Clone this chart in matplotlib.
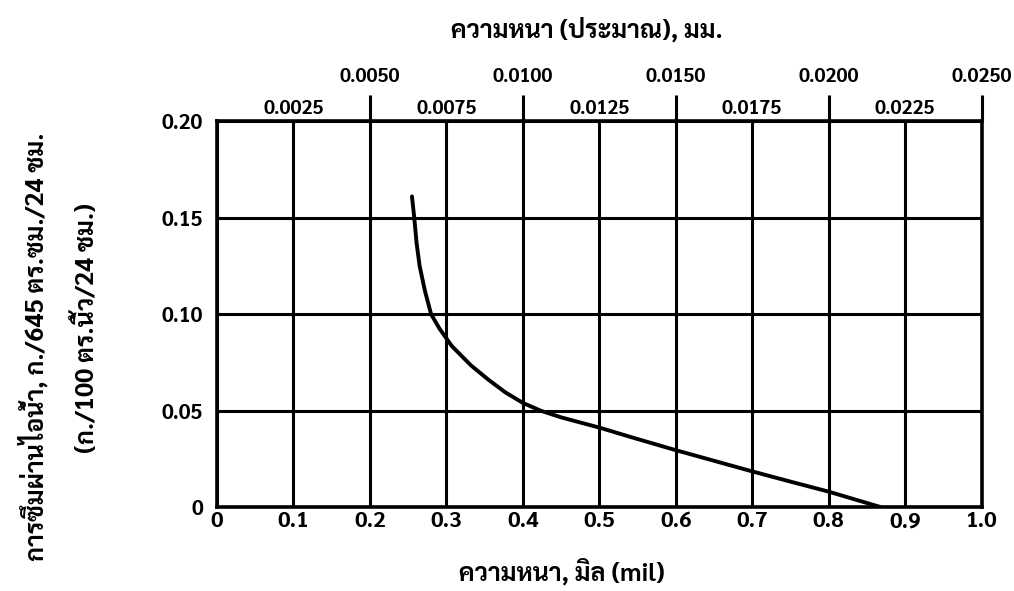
import numpy as np
import matplotlib
matplotlib.use("Agg")
import matplotlib.pyplot as plt
from matplotlib import font_manager

# thickness in mils vs water vapour transmission
mil = [0.255, 0.258, 0.261, 0.265, 0.272, 0.280, 0.291, 0.307, 0.332, 0.355,
       0.377, 0.400, 0.423, 0.450, 0.500, 0.548, 0.600, 0.650, 0.700, 0.750,
       0.800, 0.868]
wvtr = [0.161, 0.150, 0.137, 0.125, 0.112, 0.100, 0.0925, 0.0835, 0.0735, 0.066,
        0.0595, 0.054, 0.050, 0.0465, 0.0412, 0.0355, 0.0295, 0.024, 0.0185, 0.0132,
        0.008, 0.0]

x_ticks = [0, 0.1, 0.2, 0.3, 0.4, 0.5, 0.6, 0.7, 0.8, 0.9, 1.0]
x_labels = ["0", "0.1", "0.2", "0.3", "0.4", "0.5", "0.6", "0.7", "0.8", "0.9", "1.0"]
y_ticks = [0, 0.05, 0.10, 0.15, 0.20]
y_labels = ["0", "0.05", "0.10", "0.15", "0.20"]

# top axis: approximate mm
top_major = [0.2, 0.4, 0.6, 0.8, 1.0]
top_major_labels = ["0.0050", "0.0100", "0.0150", "0.0200", "0.0250"]
top_minor = [0.1, 0.3, 0.5, 0.7, 0.9]
top_minor_labels = ["0.0025", "0.0075", "0.0125", "0.0175", "0.0225"]

# pick a font that has Thai glyphs
names = {f.name for f in font_manager.fontManager.ttflist}
thai = "DejaVu Sans"
for n in ["Sarabun", "Noto Sans Thai", "Bai Jamjuree", "Chakra Petch", "Anuphan"]:
    if n in names:
        thai = n
        break
plt.rcParams["font.family"] = [thai, "DejaVu Sans"]

fig = plt.figure(figsize=(10.14, 5.91), dpi=100)
ax = fig.add_axes([0.214, 0.142, 0.754, 0.653])

ax.plot(mil, wvtr, color="black", lw=2.8, solid_capstyle="round",
        solid_joinstyle="round", zorder=3)

ax.set_xlim(0, 1)
ax.set_ylim(0, 0.2)
ax.set_xticks(x_ticks)
ax.set_xticklabels(x_labels, fontsize=16, fontweight="bold")
ax.set_yticks(y_ticks)
ax.set_yticklabels(y_labels, fontsize=15, fontweight="bold")
ax.tick_params(length=0, pad=3)
ax.tick_params(axis="y", pad=10)
ax.grid(True, color="black", lw=2.2)
for s in ax.spines.values():
    s.set_linewidth(2.6)

ax2 = ax.twiny()
ax2.set_xlim(0, 1)
ax2.set_xticks(top_major)
ax2.set_xticklabels(top_major_labels, fontsize=14, fontweight="bold")
ax2.set_xticks(top_minor, minor=True)
ax2.set_xticklabels(top_minor_labels, minor=True, fontsize=14, fontweight="bold")
ax2.tick_params(which="major", length=19, width=2.2, pad=6)
ax2.tick_params(which="minor", length=0, pad=2)
for s in ax2.spines.values():
    s.set_visible(False)

fig.text(587 / 1014, 1 - 31 / 591, "ความหนา (ประมาณ), มม.", ha="center", va="center",
         fontsize=18, fontweight="bold")
fig.text(562 / 1014, 1 - 573 / 591, "ความหนา, มิล (mil)", ha="center", va="center",
         fontsize=18, fontweight="bold")
fig.text(34 / 1014, 1 - 347 / 591, "การซึมผ่านไอน้ำ, ก./645 ตร.ซม./24 ชม.", rotation=90,
         ha="center", va="center", fontsize=18, fontweight="bold")
fig.text(87 / 1014, 1 - 328 / 591, "(ก./100 ตร.นิ้ว/24 ชม.)", rotation=90,
         ha="center", va="center", fontsize=18, fontweight="bold")

fig.savefig("out.png", dpi=100, facecolor="white")
